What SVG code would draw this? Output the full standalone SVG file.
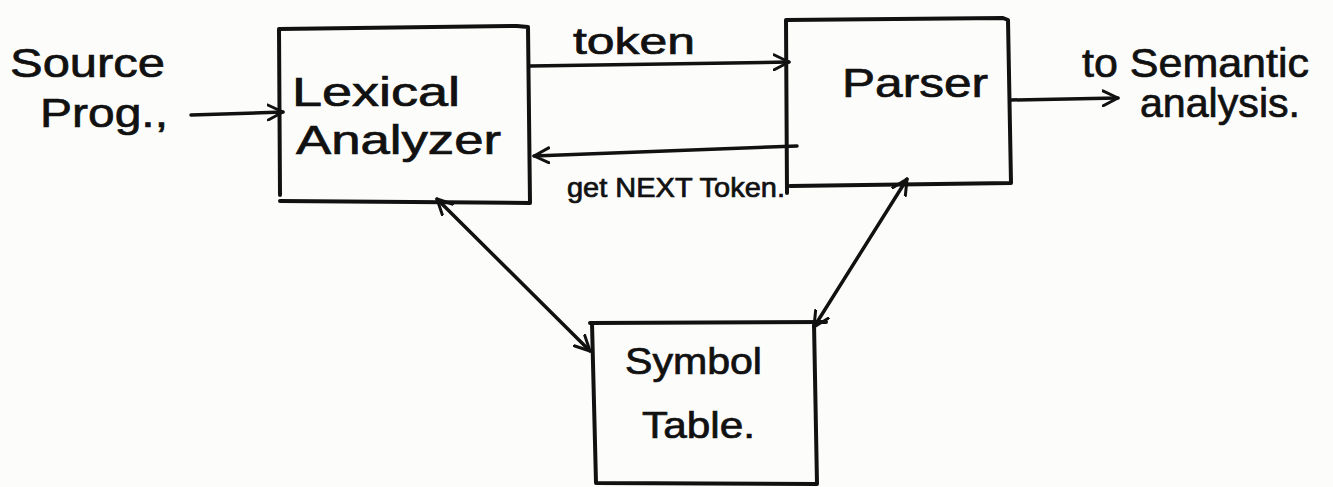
<svg xmlns="http://www.w3.org/2000/svg" width="1333" height="487" viewBox="0 0 1333 487">
  <style>
    .box { fill: none; stroke: #111; stroke-width: 4; stroke-linecap: round; stroke-linejoin: round; }
    .edge { fill: none; stroke: #111; stroke-width: 3.5; stroke-linecap: round; }
    .lbl { font-family: "Liberation Sans", "DejaVu Sans", sans-serif; fill: #111; stroke: #111; stroke-width: 0.7; }
    .big { font-size: 40px; }
    .mid { font-size: 36px; }
    .small { font-size: 27px; }
  </style>
  <defs>
    <marker id="head" viewBox="0 0 18 18" refX="16" refY="9" markerWidth="18" markerHeight="18" markerUnits="userSpaceOnUse" orient="auto-start-reverse">
      <path d="M1,1.5 L16,9 L1,16.5" fill="none" stroke="#111" stroke-width="3" stroke-linecap="round" stroke-linejoin="round"/>
    </marker>
  </defs>
  <rect width="1333" height="487" fill="#fcfcfb"/>

  <!-- source program label -->
  <g id="source">
    <text class="lbl big" x="10" y="77" textLength="155" lengthAdjust="spacingAndGlyphs">Source</text>
    <text class="lbl big" x="40" y="127" textLength="128" lengthAdjust="spacingAndGlyphs">Prog.,</text>
  </g>

  <!-- lexical analyzer -->
  <g id="lexer">
    <path class="box" d="M280,195 L279,29 L517,26 L528,27 L530,203 L280,201"/>
    <text class="lbl big" x="292" y="106" textLength="168" lengthAdjust="spacingAndGlyphs">Lexical</text>
    <text class="lbl big" x="296" y="154" textLength="205" lengthAdjust="spacingAndGlyphs">Analyzer</text>
  </g>

  <!-- parser -->
  <g id="parser">
    <path class="box" d="M787,193 L786,20 L1003,18 L1008,20 L1011,183 L790,186"/>
    <text class="lbl big" x="842" y="97" textLength="146" lengthAdjust="spacingAndGlyphs">Parser</text>
  </g>

  <!-- symbol table -->
  <g id="symtab">
    <path class="box" d="M590,323 L826,322 M592,323 L596,483 L817,484 L814,323"/>
    <text class="lbl mid" x="625" y="374" textLength="137" lengthAdjust="spacingAndGlyphs">Symbol</text>
    <text class="lbl mid" x="642" y="438" textLength="113" lengthAdjust="spacingAndGlyphs">Table.</text>
  </g>

  <!-- semantic analysis label -->
  <g id="semantic">
    <text class="lbl big" x="1082" y="77" textLength="227" lengthAdjust="spacingAndGlyphs">to Semantic</text>
    <text class="lbl big" x="1140" y="117" textLength="160" lengthAdjust="spacingAndGlyphs">analysis.</text>
  </g>

  <!-- connectors -->
  <g id="connectors">
    <path class="edge" d="M191,115 L283,112" marker-end="url(#head)"/>
    <path class="edge" d="M530,66 L789,62" marker-end="url(#head)"/>
    <text class="lbl mid" x="573" y="54" textLength="122" lengthAdjust="spacingAndGlyphs">token</text>
    <path class="edge" d="M797,146 L534,156" marker-end="url(#head)"/>
    <text class="lbl small" x="567" y="197" textLength="218" lengthAdjust="spacingAndGlyphs">get NEXT Token.</text>
    <path class="edge" d="M1011,100 L1118,98" marker-end="url(#head)"/>
    <path class="edge" d="M437,199 L590,351" marker-start="url(#head)" marker-end="url(#head)"/>
    <path class="edge" d="M907,179 L814,327" marker-start="url(#head)" marker-end="url(#head)"/>
  </g>
</svg>
